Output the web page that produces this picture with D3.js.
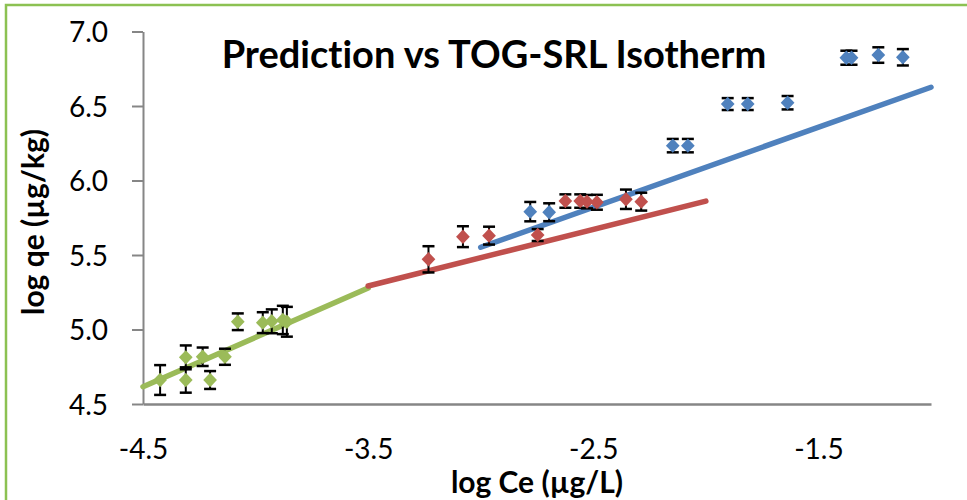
<!DOCTYPE html>
<html>
<head>
<meta charset="utf-8">
<script src="https://cdn.jsdelivr.net/npm/d3@7"></script>
<style>
  body { margin: 0; background: #fff; }
  text { font-family: Lato, "Open Sans", sans-serif; fill: #000; font-variant-ligatures: none; }
</style>
</head>
<body>
<svg id="chart" width="967" height="500"></svg>
<script>
// measured points: [log Ce, log qe, error]
const greenPts = [[-4.424, 4.661, 0.10], [-4.310, 4.813, 0.08], [-4.310, 4.661, 0.085], [-4.235, 4.817, 0.062],
  [-4.202, 4.661, 0.06], [-4.136, 4.817, 0.054], [-4.079, 5.052, 0.056], [-3.968, 5.046, 0.07],
  [-3.928, 5.055, 0.08], [-3.879, 5.064, 0.095], [-3.861, 5.052, 0.10]];
const redPts = [[-3.232, 5.471, 0.088], [-3.079, 5.623, 0.07], [-2.963, 5.630, 0.06], [-2.747, 5.634, 0.04],
  [-2.624, 5.862, 0.045], [-2.558, 5.862, 0.045], [-2.528, 5.858, 0.045], [-2.484, 5.854, 0.05],
  [-2.355, 5.874, 0.065], [-2.287, 5.858, 0.06]];
const bluePts = [[-2.780, 5.791, 0.065], [-2.696, 5.787, 0.06], [-2.147, 6.234, 0.045], [-2.080, 6.234, 0.045],
  [-1.903, 6.513, 0.04], [-1.814, 6.513, 0.04], [-1.637, 6.522, 0.045], [-1.376, 6.824, 0.047],
  [-1.353, 6.824, 0.047], [-1.234, 6.842, 0.052], [-1.125, 6.827, 0.055]];

// prediction lines
const greenLine = [[-4.5, 4.616], [-3.5, 5.278]];
const redLine = [[-3.5, 5.292], [-2.0, 5.862]];
const blueLine = [[-3.0, 5.552], [-1.0, 6.626]];

const xTicks = [-4.5, -3.5, -2.5, -1.5];
const yTicks = [4.5, 5.0, 5.5, 6.0, 6.5, 7.0];

const svg = d3.select("#chart");

// outer chart border
svg.append("rect").attr("x", 6).attr("y", 5).attr("width", 1000).attr("height", 600)
  .attr("fill", "none").attr("stroke", "#8cc152").attr("stroke-width", 2.5);

const x = d3.scaleLinear().domain([-4.5, -1.0]).range([143, 931]);
const y = d3.scaleLinear().domain([4.5, 7.0]).range([404, 31.5]);
const fmt = d => d.toFixed(1);

// y axis
const yAxis = svg.append("g").attr("transform", "translate(143,0)")
  .call(d3.axisLeft(y).tickValues(yTicks).tickFormat(fmt).tickSize(11).tickSizeOuter(0));
yAxis.select(".domain").attr("stroke", "#868686").attr("stroke-width", 2);
yAxis.selectAll(".tick line").attr("stroke", "#868686").attr("stroke-width", 2);
yAxis.selectAll(".tick text").attr("x", -35).attr("dy", "0.36em").style("font-size", "28px").style("font-family", "Lato, sans-serif");

// x axis
const xAxis = svg.append("g").attr("transform", "translate(0,404)")
  .call(d3.axisBottom(x).tickValues(xTicks).tickFormat(fmt).tickSize(0).tickSizeOuter(0));
xAxis.select(".domain").attr("stroke", "#868686").attr("stroke-width", 2.5);
xAxis.selectAll(".tick text").attr("y", 55).attr("dy", 0).style("font-size", "28px").style("font-family", "Lato, sans-serif");

const line = d3.line().x(d => x(d[0])).y(d => y(d[1]));
[[greenLine, "#9bbb59"], [redLine, "#c0504d"], [blueLine, "#4f81bd"]].forEach(function(s) {
  svg.append("path").datum(s[0]).attr("d", line).attr("fill", "none")
    .attr("stroke", s[1]).attr("stroke-width", 5.5).attr("stroke-linecap", "round");
});

function drawSeries(pts, color) {
  const g = svg.append("g");
  const eb = g.selectAll(".eb").data(pts).enter().append("g");
  eb.append("line").attr("x1", d => x(d[0])).attr("x2", d => x(d[0]))
    .attr("y1", d => y(d[1] - d[2])).attr("y2", d => y(d[1] + d[2]))
    .attr("stroke", "#000").attr("stroke-width", 2);
  eb.append("line").attr("x1", d => x(d[0]) - 6).attr("x2", d => x(d[0]) + 6)
    .attr("y1", d => y(d[1] + d[2])).attr("y2", d => y(d[1] + d[2]))
    .attr("stroke", "#000").attr("stroke-width", 2.5);
  eb.append("line").attr("x1", d => x(d[0]) - 6).attr("x2", d => x(d[0]) + 6)
    .attr("y1", d => y(d[1] - d[2])).attr("y2", d => y(d[1] - d[2]))
    .attr("stroke", "#000").attr("stroke-width", 2.5);
  g.selectAll(".pt").data(pts).enter().append("path")
    .attr("d", d3.symbol().type(d3.symbolDiamond2).size(120))
    .attr("transform", d => "translate(" + x(d[0]) + "," + y(d[1]) + ") scale(1,1.05)")
    .attr("fill", color);
}
drawSeries(greenPts, "#9bbb59");
drawSeries(redPts, "#c0504d");
drawSeries(bluePts, "#4f81bd");

// titles
svg.append("text").attr("x", 494).attr("y", 68).attr("text-anchor", "middle")
  .style("font-size", "38px").style("font-weight", "bold").text("Prediction vs TOG-SRL Isotherm");
svg.append("text").attr("x", 537).attr("y", 493).attr("text-anchor", "middle")
  .style("font-size", "30px").style("font-weight", "bold").text("log Ce (µg/L)");
svg.append("text").attr("transform", "translate(44,222) rotate(-90)").attr("text-anchor", "middle")
  .style("font-size", "30px").style("font-weight", "bold").text("log qe (µg/kg)");
</script>
</body>
</html>
